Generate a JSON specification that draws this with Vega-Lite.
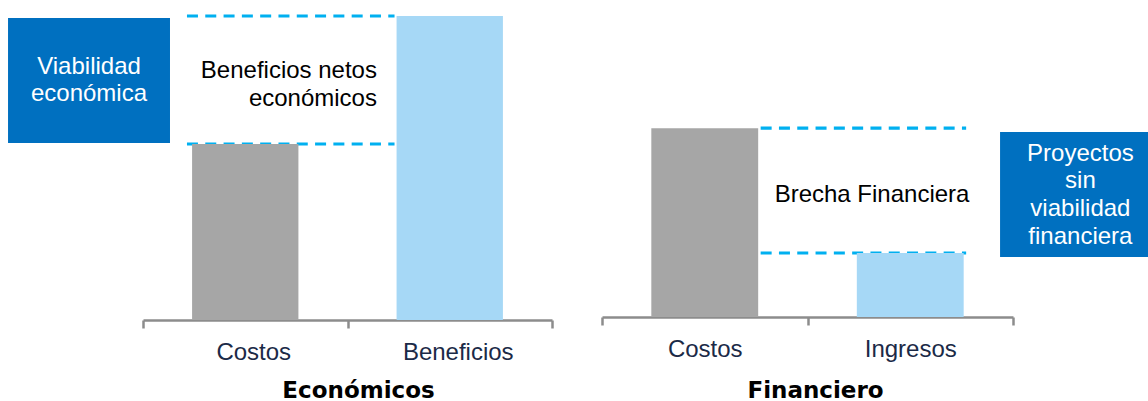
{
  "$schema": "https://vega.github.io/schema/vega-lite/v6.json",
  "width": 1148,
  "height": 320,
  "autosize": "none",
  "padding": {"left": 0, "top": 0, "right": 0, "bottom": 81},
  "background": "#ffffff",
  "config": {"view": {"stroke": null}},
  "layer": [
    {
      "layer": [
        {
          "data": {"values": [
            {"item": "Costos", "value": 55},
            {"item": "Beneficios", "value": 95}
          ]},
          "layer": [
            {
              "mark": {"type": "rule", "color": "#00B0F0", "strokeWidth": 3.2, "strokeDash": [11, 7.3]},
              "encoding": {
                "x": {"datum": "Costos", "type": "nominal", "bandPosition": 0.215},
                "x2": {"datum": "Beneficios", "bandPosition": 0.23},
                "y": {"field": "value", "type": "quantitative", "axis": null}
              }
            },
            {
              "mark": {"type": "bar", "width": {"band": 0.52}},
              "encoding": {
                "x": {
                  "field": "item", "type": "nominal", "sort": null,
                  "scale": {"type": "band", "domain": ["Costos", "Beneficios"], "range": [143, 552], "paddingInner": 0, "paddingOuter": 0},
                  "axis": {
                    "orient": "bottom", "title": "Económicos", "titleX": 358, "titleY": 77,
                    "titleBaseline": "alphabetic", "titleAlign": "center", "titleAnchor": null,
                    "titleFont": "DejaVu Sans", "titleFontSize": 23, "titleFontWeight": "bold", "titleColor": "#000000",
                    "labelAngle": 0, "labelAlign": "center", "labelFont": "Liberation Sans", "labelFontSize": 24, "labelColor": "#1B2A47",
                    "labelBaseline": "alphabetic", "labelPadding": 31, "labelOffset": 8,
                    "domainColor": "#8C8C8C", "domainWidth": 2.5, "tickColor": "#8C8C8C", "tickWidth": 2.5,
                    "tickSize": 8, "tickBand": "extent", "grid": false
                  }
                },
                "y": {"field": "value", "type": "quantitative", "scale": {"domain": [0, 100], "nice": false}, "axis": null},
                "color": {
                  "field": "item", "type": "nominal",
                  "scale": {"domain": ["Costos", "Beneficios", "Ingresos"], "range": ["#A6A6A6", "#A6D8F6", "#A6D8F6"]},
                  "legend": null
                }
              }
            }
          ]
        },
        {
          "data": {"values": [
            {"label": ["Viabilidad", "económica"], "top": 94.4, "bottom": 55.3, "first": 79.2}
          ]},
          "layer": [
            {
              "mark": {"type": "rect", "color": "#0070C0"},
              "encoding": {
                "x": {"datum": "Costos", "type": "nominal", "bandPosition": -0.66},
                "x2": {"datum": "Costos", "bandPosition": 0.132},
                "y": {"field": "top", "type": "quantitative", "axis": null},
                "y2": {"field": "bottom"}
              }
            },
            {
              "mark": {"type": "text", "color": "#ffffff", "font": "Liberation Sans", "fontSize": 24, "lineHeight": 27, "align": "center", "baseline": "middle"},
              "encoding": {
                "x": {"datum": "Costos", "type": "nominal", "bandPosition": -0.264},
                "y": {"field": "first", "type": "quantitative", "axis": null},
                "text": {"field": "label"}
              }
            }
          ]
        },
        {
          "data": {"values": [
            {"label": ["Beneficios netos", "económicos"], "first": 77.9}
          ]},
          "mark": {"type": "text", "color": "#000000", "font": "Liberation Sans", "fontSize": 24, "lineHeight": 28, "align": "right", "baseline": "middle"},
          "encoding": {
            "x": {"datum": "Beneficios", "type": "nominal", "bandPosition": 0.144},
            "y": {"field": "first", "type": "quantitative", "axis": null},
            "text": {"field": "label"}
          }
        }
      ]
    },
    {
      "layer": [
        {
          "data": {"values": [
            {"item": "Costos", "value": 59},
            {"item": "Ingresos", "value": 20}
          ]},
          "layer": [
            {
              "mark": {"type": "rule", "color": "#00B0F0", "strokeWidth": 3.2, "strokeDash": [11, 7.3]},
              "encoding": {
                "x": {"datum": "Costos", "type": "nominal", "bandPosition": 0.772},
                "x2": {"datum": "Ingresos", "bandPosition": 0.772},
                "y": {"field": "value", "type": "quantitative", "axis": null}
              }
            },
            {
              "mark": {"type": "bar", "width": {"band": 0.52}},
              "encoding": {
                "x": {
                  "field": "item", "type": "nominal", "sort": null,
                  "scale": {"type": "band", "domain": ["Costos", "Ingresos"], "range": [602, 1013], "paddingInner": 0, "paddingOuter": 0},
                  "axis": {
                    "orient": "bottom", "offset": -3, "title": "Financiero", "titleX": 815, "titleY": 80,
                    "titleBaseline": "alphabetic", "titleAlign": "center", "titleAnchor": null,
                    "titleFont": "DejaVu Sans", "titleFontSize": 23, "titleFontWeight": "bold", "titleColor": "#000000",
                    "labelAngle": 0, "labelAlign": "center", "labelFont": "Liberation Sans", "labelFontSize": 24, "labelColor": "#1B2A47",
                    "labelBaseline": "alphabetic", "labelPadding": 31, "labelOffset": 0,
                    "domainColor": "#8C8C8C", "domainWidth": 2.5, "tickColor": "#8C8C8C", "tickWidth": 2.5,
                    "tickSize": 8, "tickBand": "extent", "grid": false
                  }
                },
                "y": {"field": "value", "type": "quantitative", "scale": {"domain": [0, 100], "range": [317, -3], "nice": false}, "axis": null},
                "color": {
                  "field": "item", "type": "nominal",
                  "scale": {"domain": ["Costos", "Beneficios", "Ingresos"], "range": ["#A6A6A6", "#A6D8F6", "#A6D8F6"]},
                  "legend": null
                }
              }
            }
          ]
        },
        {
          "data": {"values": [
            {"label": ["Proyectos", "sin", "viabilidad", "financiera"], "top": 57.8, "bottom": 18.75, "first": 51.06}
          ]},
          "layer": [
            {
              "mark": {"type": "rect", "color": "#0070C0"},
              "encoding": {
                "x": {"datum": "Ingresos", "type": "nominal", "bandPosition": 0.937},
                "x2": {"datum": "Ingresos", "bandPosition": 1.66},
                "y": {"field": "top", "type": "quantitative", "axis": null},
                "y2": {"field": "bottom"}
              }
            },
            {
              "mark": {"type": "text", "color": "#ffffff", "font": "Liberation Sans", "fontSize": 24, "lineHeight": 27.7, "align": "center", "baseline": "middle"},
              "encoding": {
                "x": {"datum": "Ingresos", "type": "nominal", "bandPosition": 1.328},
                "y": {"field": "first", "type": "quantitative", "axis": null},
                "text": {"field": "label"}
              }
            }
          ]
        },
        {
          "data": {"values": [
            {"label": "Brecha Financiera", "mid": 38.25}
          ]},
          "mark": {"type": "text", "color": "#000000", "font": "Liberation Sans", "fontSize": 24, "align": "center", "baseline": "middle"},
          "encoding": {
            "x": {"datum": "Ingresos", "type": "nominal", "bandPosition": 0.314},
            "y": {"field": "mid", "type": "quantitative", "axis": null},
            "text": {"field": "label"}
          }
        }
      ]
    }
  ],
  "resolve": {"scale": {"x": "independent", "y": "independent"}, "axis": {"x": "independent", "y": "independent"}}
}
